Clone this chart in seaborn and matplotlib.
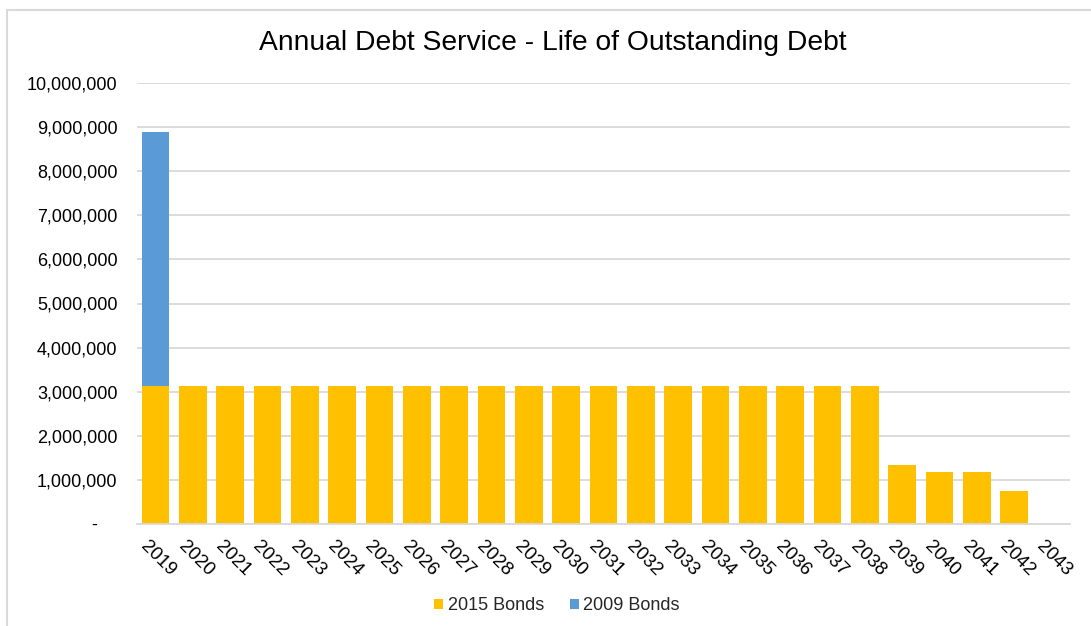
import matplotlib
matplotlib.use("Agg")
import matplotlib.pyplot as plt
import matplotlib.ticker as mticker
import matplotlib.transforms as mtrans
from matplotlib.lines import Line2D
from matplotlib.patches import Patch
import seaborn as sns
import pandas as pd

years = [str(y) for y in range(2019, 2044)]
bonds_2015 = [3130000] * 20 + [1340000, 1180000, 1180000, 755000, 0]
bonds_2009 = [5760000] + [0] * 24
series_names = ["2015 Bonds", "2009 Bonds"]
colors = {"2015 Bonds": "#FFC000", "2009 Bonds": "#5B9BD5"}

df = pd.DataFrame({"year": years, "b2015": bonds_2015, "b2009": bonds_2009})
df["total"] = df["b2015"] + df["b2009"]

sns.set_theme(style="white")
plt.rcParams["font.family"] = ["Liberation Sans", "DejaVu Sans"]

fig = plt.figure(figsize=(10.91, 6.26), dpi=100)
ax = fig.add_axes([137 / 1091, 1 - 524 / 626, (1070 - 137) / 1091, (524 - 83) / 626])

sns.barplot(data=df, x="year", y="total", color=colors["2009 Bonds"], saturation=1,
            width=0.74, ax=ax, linewidth=0)
sns.barplot(data=df, x="year", y="b2015", color=colors["2015 Bonds"], saturation=1,
            width=0.74, ax=ax, linewidth=0)

ax.set_xlim(-0.5, len(years) - 0.5)
ax.set_ylim(0, 10000000)
ax.yaxis.set_major_locator(mticker.MultipleLocator(1000000))

def fmt(v, pos):
    if abs(v) < 1:
        return "-    "
    return f"{v:,.0f}"

ax.yaxis.set_major_formatter(mticker.FuncFormatter(fmt))
ax.grid(axis="y", color="#D9D9D9", linewidth=1.3)
ax.set_axisbelow(True)
for s in ["top", "right", "left"]:
    ax.spines[s].set_visible(False)
ax.spines["bottom"].set_color("#D9D9D9")
ax.spines["bottom"].set_linewidth(1.3)
ax.tick_params(axis="y", length=0, pad=14, labelsize=13, labelcolor="#000000")
ax.tick_params(axis="x", length=0, pad=10, labelsize=13.5, labelcolor="#000000")
ax.set_xlabel("")
ax.set_ylabel("")

ax.set_xticks(range(len(years)))
ax.set_xticklabels(years, rotation=-45, ha="left", va="top", rotation_mode="anchor")
offset = mtrans.ScaledTranslation(-6 / 100, 0, fig.dpi_scale_trans)
for lbl in ax.get_xticklabels():
    lbl.set_transform(lbl.get_transform() + offset)

fig.text(553 / 1091, 1 - 43 / 626, "Annual Debt Service - Life of Outstanding Debt",
         ha="center", va="center", fontsize=20.3, color="#000000")

handles = [Patch(facecolor=colors[n], edgecolor="none") for n in series_names]
fig.legend(handles, series_names, loc="center", bbox_to_anchor=(557 / 1091, 1 - 606 / 626),
           ncol=2, frameon=False, fontsize=13, handlelength=0.5, handleheight=0.5,
           handletextpad=0.25, columnspacing=1.4)

fig.add_artist(Line2D([7 / 1091, 7 / 1091], [0, 1 - 10 / 626], transform=fig.transFigure,
                      color="#D9D9D9", linewidth=1.5))
fig.add_artist(Line2D([7 / 1091, 1], [1 - 10 / 626, 1 - 10 / 626], transform=fig.transFigure,
                      color="#D9D9D9", linewidth=1.5))

fig.savefig("out.png", dpi=100, facecolor="white")
